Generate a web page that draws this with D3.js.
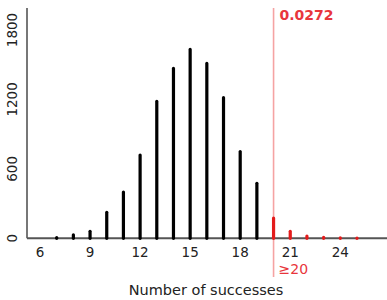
<!DOCTYPE html>
<html>
<head>
<meta charset="utf-8">
<script src="https://cdn.jsdelivr.net/npm/d3@7"></script>
<style>
  body { margin: 0; background: #fff; }
  svg { display: block; font-family: "DejaVu Sans", Verdana, sans-serif; }
</style>
</head>
<body>
<svg id="chart" width="387" height="300"></svg>
<script>
// counts
var successes = [7, 8, 9, 10, 11, 12, 13, 14, 15, 16, 17, 18, 19, 20, 21, 22, 23, 24, 25];
var counts = [6, 30, 60, 225, 400, 720, 1183, 1468, 1632, 1511, 1215, 750, 475, 175, 60, 20, 8, 3, 1];
var xTicks = [6, 9, 12, 15, 18, 21, 24];
var yTicks = [0, 600, 1200, 1800];
var cutoff = 20;
var tailLabel = "0.0272";

var svg = d3.select("#chart");
var x = d3.scaleLinear().domain([5.22, 26.8]).range([27, 387]);
var y = d3.scaleLinear().domain([0, 1990]).range([238.3, 8]);

var red = "#e31b1b";

// cutoff marker (behind the bars)
svg.append("line")
  .attr("x1", x(cutoff)).attr("x2", x(cutoff))
  .attr("y1", 8).attr("y2", 277)
  .attr("stroke", "#f5a3a3").attr("stroke-width", 1.6);

// axes
svg.append("line")
  .attr("x1", 27).attr("x2", 27)
  .attr("y1", y.range()[1]).attr("y2", y(0))
  .attr("stroke", "#777").attr("stroke-width", 2);
svg.append("line")
  .attr("x1", 27).attr("x2", 387)
  .attr("y1", y(0)).attr("y2", y(0))
  .attr("stroke", "#555").attr("stroke-width", 2);

// bars
svg.selectAll("line.bar")
  .data(successes)
  .enter().append("line")
    .attr("class", "bar")
    .attr("x1", function (d) { return x(d); })
    .attr("x2", function (d) { return x(d); })
    .attr("y1", y(0))
    .attr("y2", function (d, i) { return y(counts[i]); })
    .attr("stroke", function (d) { return d >= cutoff ? red : "#000"; })
    .attr("stroke-width", 3.2)
    .attr("stroke-linecap", "round");

svg.selectAll("text.xt")
  .data(xTicks)
  .enter().append("text")
    .attr("class", "xt")
    .attr("x", function (d) { return x(d); })
    .attr("y", 257)
    .attr("text-anchor", "middle")
    .attr("font-size", 13.5)
    .attr("fill", "#222")
    .text(function (d) { return d; });

svg.selectAll("text.yt")
  .data(yTicks)
  .enter().append("text")
    .attr("class", "yt")
    .attr("transform", function (d) { return "translate(17," + y(d) + ") rotate(-90)"; })
    .attr("text-anchor", "middle")
    .attr("font-size", 13.5)
    .attr("fill", "#222")
    .text(function (d) { return d; });

svg.append("text")
  .attr("x", (27 + 387) / 2 - 1)
  .attr("y", 295)
  .attr("text-anchor", "middle")
  .attr("font-size", 14.5)
  .attr("fill", "#222")
  .text("Number of successes");

svg.append("text")
  .attr("x", x(cutoff) + 6)
  .attr("y", 20)
  .attr("font-size", 14)
  .attr("font-weight", "bold")
  .attr("fill", "#e8363c")
  .text(tailLabel);

svg.append("text")
  .attr("x", x(cutoff) + 5)
  .attr("y", 274)
  .attr("font-size", 14)
  .attr("fill", "#e8363c")
  .text("\u2265" + cutoff);
</script>
</body>
</html>
